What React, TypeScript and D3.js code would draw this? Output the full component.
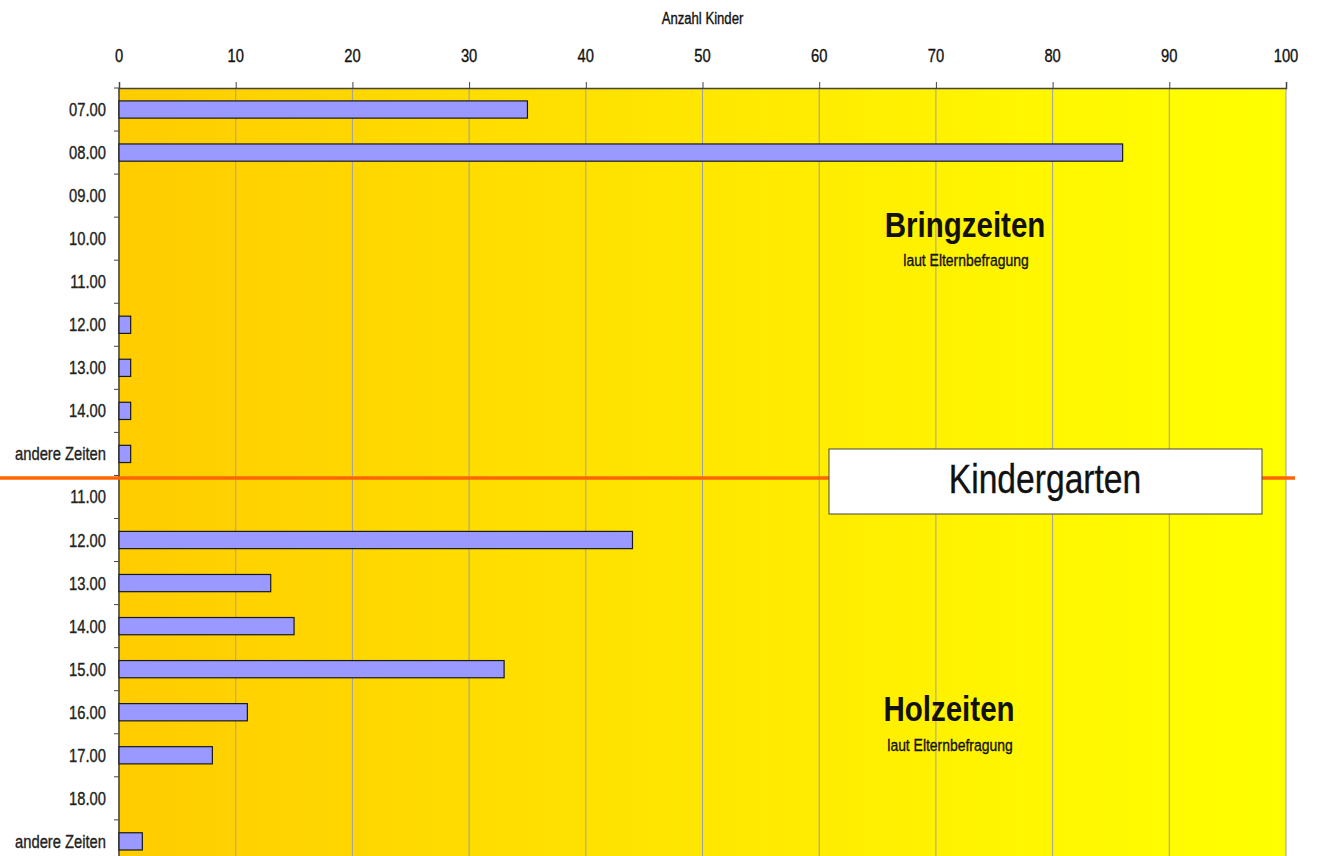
// @ts-nocheck
import React, { useEffect, useRef } from 'react'
import * as d3 from 'd3'

const bringLabels = ['07.00', '08.00', '09.00', '10.00', '11.00', '12.00', '13.00', '14.00', 'andere Zeiten']
const bringValues = [35, 86, 0, 0, 0, 1, 1, 1, 1]
const holLabels = ['11.00', '12.00', '13.00', '14.00', '15.00', '16.00', '17.00', '18.00', 'andere Zeiten']
const holValues = [0, 44, 13, 15, 33, 11, 8, 0, 2]
const xTicks = [0, 10, 20, 30, 40, 50, 60, 70, 80, 90, 100]

const W = 1317
const H = 856
const left = 119
const right = 1286
const top = 88
const rowH = 43.05

const NARROW = 0.82
const font = 'Liberation Sans, Arial, sans-serif'

const rows = [
  ...bringLabels.map((label, i) => ({ key: 'b' + i, label, value: bringValues[i] })),
  ...holLabels.map((label, i) => ({ key: 'h' + i, label, value: holValues[i] })),
]

// narrow-looking text: regular font squeezed horizontally, with a thin outline for weight
const Txt = ({ x, y, size, anchor = 'middle', weight = 'normal', fill = '#111', children }) => (
  <text
    transform={`translate(${x}, ${y}) scale(${NARROW}, 1)`}
    textAnchor={anchor}
    fontSize={size}
    fontWeight={weight}
    fontFamily={font}
    fill={fill}
    stroke={fill}
    strokeWidth={weight === 'bold' ? 0 : 0.35}
  >
    {children}
  </text>
)

const XAxis = ({ scale }) => {
  const axis = useRef(null)
  useEffect(() => {
    const g = d3.select(axis.current)
    g.call(d3.axisTop(scale).tickValues(xTicks).tickSize(6).tickFormat(() => ''))
    g.select('.domain').attr('stroke', '#444').attr('stroke-width', 1.5)
    g.selectAll('.tick line').attr('stroke', '#444')
  })
  return <g ref={axis} transform={`translate(0, ${top})`} />
}

const App = () => {
  const x = d3.scaleLinear().domain([0, 100]).range([left, right])
  const y = d3
    .scaleBand()
    .domain(rows.map((d) => d.key))
    .range([top, top + rows.length * rowH])
    .paddingInner(0)
  const bandH = y.bandwidth()
  const barH = bandH * 0.4
  const splitY = y('h0') + 2.5

  return (
    <svg width={W} height={H} style={{ position: 'absolute', left: 0, top: 0, background: '#fff' }}>
      <defs>
        <linearGradient id="bg" x1="0" x2="1" y1="0" y2="0">
          <stop offset="0" stopColor="#ffcc00" />
          <stop offset="0.8" stopColor="#fff700" />
          <stop offset="1" stopColor="#ffff00" />
        </linearGradient>
      </defs>
      <rect x={left} y={top} width={right - left} height={H - top} fill="url(#bg)" />

      {xTicks.map((t) => (
        <line key={t} x1={x(t)} x2={x(t)} y1={top} y2={H} stroke="#a0a0a0" strokeWidth={1} />
      ))}

      <Txt x={(left + right) / 2} y={24} size={16}>Anzahl Kinder</Txt>
      {xTicks.map((t) => (
        <Txt key={t} x={x(t)} y={62} size={18}>{t}</Txt>
      ))}
      <XAxis scale={x} />

      <line x1={left} x2={left} y1={top} y2={H} stroke="#444" strokeWidth={1.5} />
      {rows.map((d, i) => (
        <line key={d.key} x1={left - 5} x2={left} y1={top + i * rowH} y2={top + i * rowH} stroke="#444" />
      ))}

      {rows.map((d) => (
        <Txt key={d.key} x={106} y={y(d.key) + bandH / 2 + 6.5} size={18} anchor="end" fill="#222">
          {d.label}
        </Txt>
      ))}

      {rows
        .filter((d) => d.value > 0)
        .map((d) => (
          <rect
            key={d.key}
            x={x(0)}
            y={y(d.key) + (bandH - barH) / 2}
            width={x(d.value) - x(0)}
            height={barH}
            fill="#9999ff"
            stroke="#1a1a1a"
            strokeWidth={1.2}
          />
        ))}

      <line x1={0} x2={1295} y1={splitY} y2={splitY} stroke="#ff6600" strokeWidth={3.5} />
      <rect x={829} y={449} width={433} height={65} fill="#fff" stroke="#444" strokeWidth={1} />
      <Txt x={1045} y={493} size={41}>Kindergarten</Txt>

      <Txt x={965} y={237} size={36} weight="bold">Bringzeiten</Txt>
      <Txt x={966} y={266} size={17}>laut Elternbefragung</Txt>
      <Txt x={949} y={721} size={36} weight="bold">Holzeiten</Txt>
      <Txt x={950} y={751} size={17}>laut Elternbefragung</Txt>
    </svg>
  )
}

export default App
